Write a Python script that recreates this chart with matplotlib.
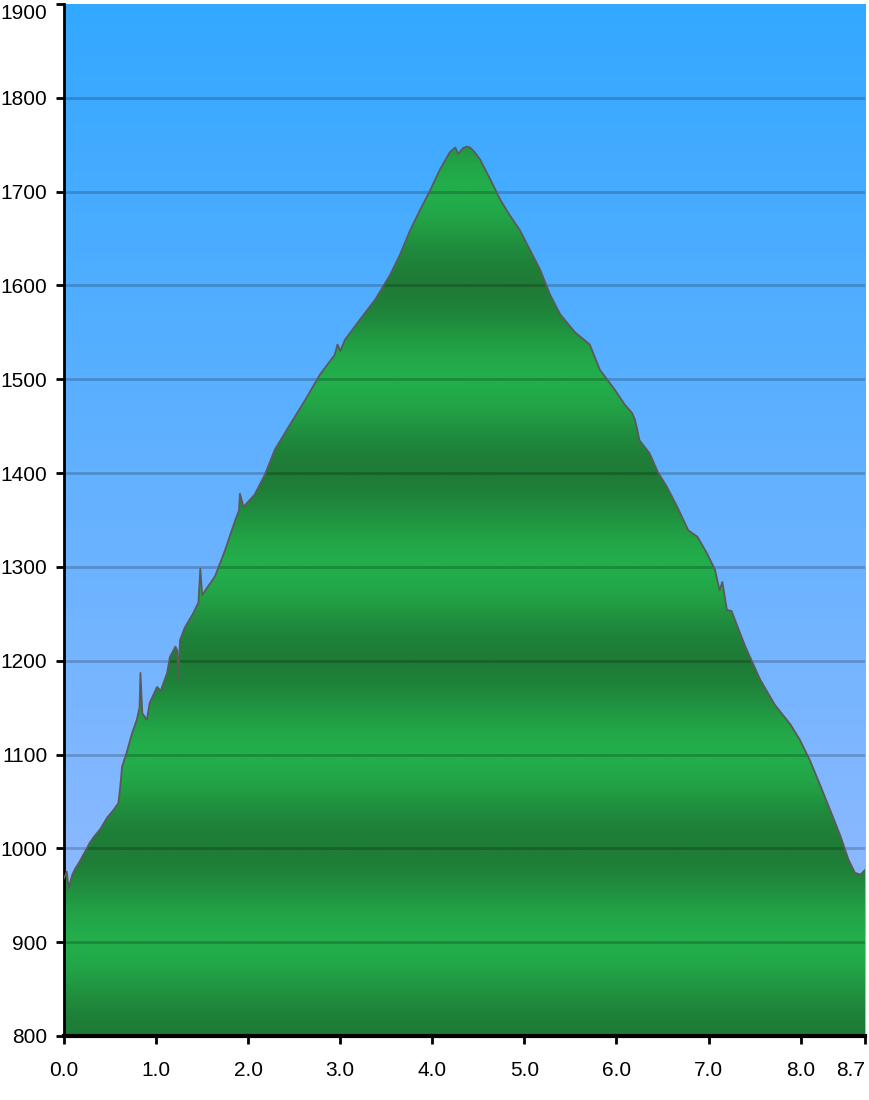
import numpy as np
import matplotlib.pyplot as plt
from matplotlib.colors import LinearSegmentedColormap

# distance (km) and elevation (m)
dist_km = [0.00, 0.03, 0.05, 0.09, 0.12, 0.17, 0.22, 0.28, 0.33, 0.39,
           0.47, 0.53, 0.59, 0.61, 0.63, 0.68, 0.74, 0.79, 0.82, 0.83,
           0.85, 0.90, 0.93, 1.01, 1.05, 1.12, 1.15, 1.21, 1.23, 1.24,
           1.26, 1.31, 1.40, 1.46, 1.48, 1.50, 1.64, 1.75, 1.86, 1.90,
           1.91, 1.95, 2.07, 2.18, 2.29, 2.45, 2.62, 2.78, 2.94, 2.97,
           3.00, 3.05, 3.21, 3.38, 3.54, 3.65, 3.76, 3.87, 3.98, 4.08,
           4.19, 4.25, 4.28, 4.33, 4.37, 4.41, 4.46, 4.52, 4.63, 4.74,
           4.84, 4.95, 5.06, 5.17, 5.28, 5.39, 5.55, 5.71, 5.82, 5.98,
           6.09, 6.17, 6.20, 6.22, 6.25, 6.36, 6.45, 6.55, 6.66, 6.78,
           6.88, 6.98, 7.07, 7.12, 7.15, 7.20, 7.25, 7.34, 7.40, 7.56,
           7.72, 7.89, 7.99, 8.10, 8.21, 8.32, 8.43, 8.52, 8.59, 8.65,
           8.70]
elev_m = [968, 975, 958, 972, 978, 986, 995, 1006, 1013, 1020,
          1033, 1040, 1048, 1065, 1087, 1102, 1123, 1137, 1150, 1187,
          1144, 1137, 1155, 1172, 1168, 1187, 1204, 1215, 1211, 1180,
          1222, 1235, 1250, 1262, 1298, 1270, 1290, 1318, 1350, 1360,
          1378, 1364, 1377, 1398, 1425, 1451, 1478, 1505, 1526, 1537,
          1530, 1542, 1563, 1585, 1611, 1633, 1659, 1681, 1702, 1723,
          1742, 1747, 1740, 1746, 1748, 1747, 1742, 1734, 1713, 1691,
          1675, 1659, 1638, 1617, 1590, 1569, 1550, 1537, 1510, 1489,
          1473, 1464, 1457, 1449, 1435, 1421, 1401, 1385, 1364, 1339,
          1332, 1315, 1297, 1275, 1284, 1254, 1253, 1230, 1215, 1180,
          1153, 1132, 1116, 1094, 1068, 1041, 1014, 988, 974, 972,
          977]

x_ticks = [0, 1, 2, 3, 4, 5, 6, 7, 8, 8.7]
y_ticks = list(range(800, 2000, 100))
xmin, xmax = 0, 8.7
ymin, ymax = 800, 1900

plt.rcParams['font.family'] = ['Liberation Sans', 'DejaVu Sans']

fig = plt.figure(figsize=(8.7, 11), dpi=100)
ax = fig.add_axes([0.0736, 0.0582, 0.9207, 0.9382])

# sky gradient
sky = LinearSegmentedColormap.from_list('sky', ['#9bbcff', '#33a8ff'])
grad = np.linspace(0, 1, 256).reshape(-1, 1)
ax.imshow(grad, extent=[xmin, xmax, ymin, ymax], origin='lower', cmap=sky,
          aspect='auto', zorder=0)

# green banded fill, dark at even hundreds, bright at odd hundreds
yy = np.linspace(ymin, ymax, 1100)
band = 0.5 - 0.5 * np.cos(2 * np.pi * (yy - 800) / 200.0)
greens = LinearSegmentedColormap.from_list('grn', ['#1e7c36', '#23ad4b'])
poly = ax.fill_between(dist_km, elev_m, ymin, color='none', lw=0)
img = ax.imshow(band.reshape(-1, 1), extent=[xmin, xmax, ymin, ymax],
                origin='lower', cmap=greens, aspect='auto', zorder=1)
img.set_clip_path(poly.get_paths()[0], transform=ax.transData)

ax.plot(dist_km, elev_m, color='#5a5a5a', lw=1.3, zorder=3)

for yv in y_ticks[1:-1]:
    ax.axhline(yv, color='#000000', alpha=0.2, lw=2, zorder=2)

ax.set_xlim(xmin, xmax)
ax.set_ylim(ymin, ymax)
ax.set_xticks(x_ticks)
ax.set_xticklabels(['%.1f' % v for v in x_ticks])
ax.set_yticks(y_ticks)
ax.set_yticklabels([str(v) for v in y_ticks])
ax.tick_params(axis='both', direction='out', length=6, width=2,
               labelsize=15, colors='black')
ax.tick_params(axis='x', pad=12)
ax.tick_params(axis='y', pad=6)
# last x label sits against the right edge, top y label kept inside
ax.get_xticklabels()[-1].set_horizontalalignment('right')
ax.get_yticklabels()[-1].set_verticalalignment('top')

for s in ['top', 'right']:
    ax.spines[s].set_visible(False)
ax.spines['left'].set_linewidth(2)
ax.spines['bottom'].set_linewidth(3)

plt.savefig('out.png', dpi=100)
